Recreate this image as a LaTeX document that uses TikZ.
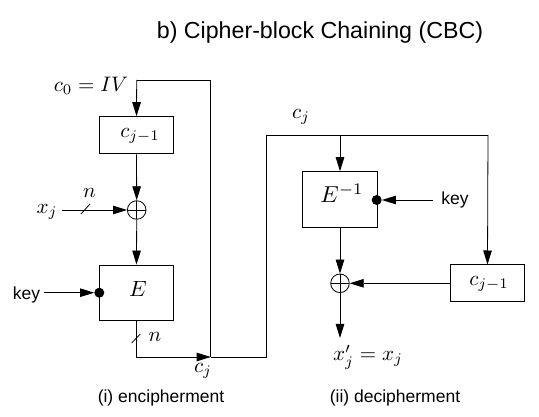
\documentclass[tikz,border=0pt]{standalone}
\usepackage{fontspec}
\setmainfont{Liberation Sans}
\usetikzlibrary{arrows.meta}
\tikzset{
  box/.style={draw, line width=0.9pt, minimum width=74.4pt, inner sep=0pt},
  xorc/.style={draw, circle, line width=0.8pt, minimum size=18.6pt, inner sep=0pt,
    path picture={\draw[line width=0.8pt] (path picture bounding box.north) -- (path picture bounding box.south)
      (path picture bounding box.west) -- (path picture bounding box.east);}},
  keydot/.style={circle, fill, minimum size=10pt, inner sep=0pt},
  arr/.style={-{Triangle[length=14pt,width=8.5pt]}, line width=0.8pt},
  ln/.style={line width=0.8pt},
  mth/.style={font=\fontsize{10}{12}\selectfont, scale=2.1, inner sep=0pt},
  sans/.style={font=\fontsize{17.5}{21}\selectfont, inner sep=0pt},
}
\begin{document}
\begin{tikzpicture}[x=1pt,y=-1pt]
\useasboundingbox (0,0) rectangle (539,417);
% title
\node[font=\fontsize{23.2}{28}\selectfont, inner sep=0pt, anchor=base] (title) at (320,39) {b) Cipher-block Chaining (CBC)};
% left part
\node[box, minimum height=37.3pt] (cprev) at (136.5,135.3) {};
\node[mth] (cprevl) at (140,136) {$c_{j-1}$};
\node[xorc] (xor1) at (136.7,210) {};
\node[box, minimum height=55pt] (E) at (136.5,292.5) {};
\node[mth, scale=1.05] (El) at (138,288.5) {$E$};
\node[keydot] (dot1) at (99.3,292.7) {};
\node[sans] (keyL) at (26.5,295) {key};
\node[mth] (xj) at (47,212) {$x_j$};
\node[mth, anchor=base] (c0) at (91,91.7) {$c_0 = IV$};
\node[mth] (n1) at (89.5,193) {$n$};
\node[mth] (n2) at (155,337) {$n$};
\node[mth] (cjb) at (203,371) {$c_j$};
\coordinate (t0) at (136.7,80);
\coordinate (t1) at (210.7,80);
\coordinate (j) at (210.7,357);
\coordinate (b0) at (136.5,357);
\coordinate (xs) at (61.7,210);
\coordinate (ks) at (44,292.7);
\draw[arr] (t0) -- (cprev.north);
\draw[ln] (t0) -- (t1) -- (j);
\draw[arr] (cprev.south) -- (xor1.north);
\draw[arr] (xs) -- (xor1.west);
\draw[arr] (xor1.south) -- (E.north);
\draw[arr] (ks) -- (dot1);
\draw[arr] (E.south) -- (b0) -- (j);
\draw[ln] (81,214) -- (90,204);
\draw[ln] (131.7,343) -- (140.3,334);
% right part
\coordinate (r0) at (266,357);
\coordinate (r1) at (266,135);
\coordinate (r2) at (340,135);
\coordinate (r3) at (488,135);
\node[box, minimum height=56pt] (Einv) at (340,199.7) {};
\node[mth, scale=1.1] (Einvl) at (342,193) {$E^{-1}$};
\node[keydot] (dot2) at (376.7,200) {};
\node[sans] (keyR) at (455,200) {key};
\coordinate (ks2) at (432.7,200);
\node[xorc] (xor2) at (340,283.3) {};
\node[box, minimum height=36.7pt, minimum width=73.6pt] (cprev2) at (487.5,283.3) {};
\node[mth] (cprev2l) at (489,284) {$c_{j-1}$};
\node[mth] (cjt) at (301,117) {$c_j$};
\coordinate (out) at (340,338);
\node[mth] (xout) at (368,357) {$x'_j = x_j$};
\draw[ln] (j) -- (r0) -- (r1) -- (r3);
\draw[arr] (r3) -- (cprev2.north);
\draw[arr] (r2) -- (Einv.north);
\draw[arr] (ks2) -- (dot2);
\draw[arr] (Einv.south) -- (xor2.north);
\draw[arr] (cprev2.west) -- (xor2.east);
\draw[arr] (xor2.south) -- (out);
% captions
\node[sans] (cap1) at (161,398) {(i) encipherment};
\node[sans] (cap2) at (395,398) {(ii) decipherment};
\end{tikzpicture}
\end{document}
